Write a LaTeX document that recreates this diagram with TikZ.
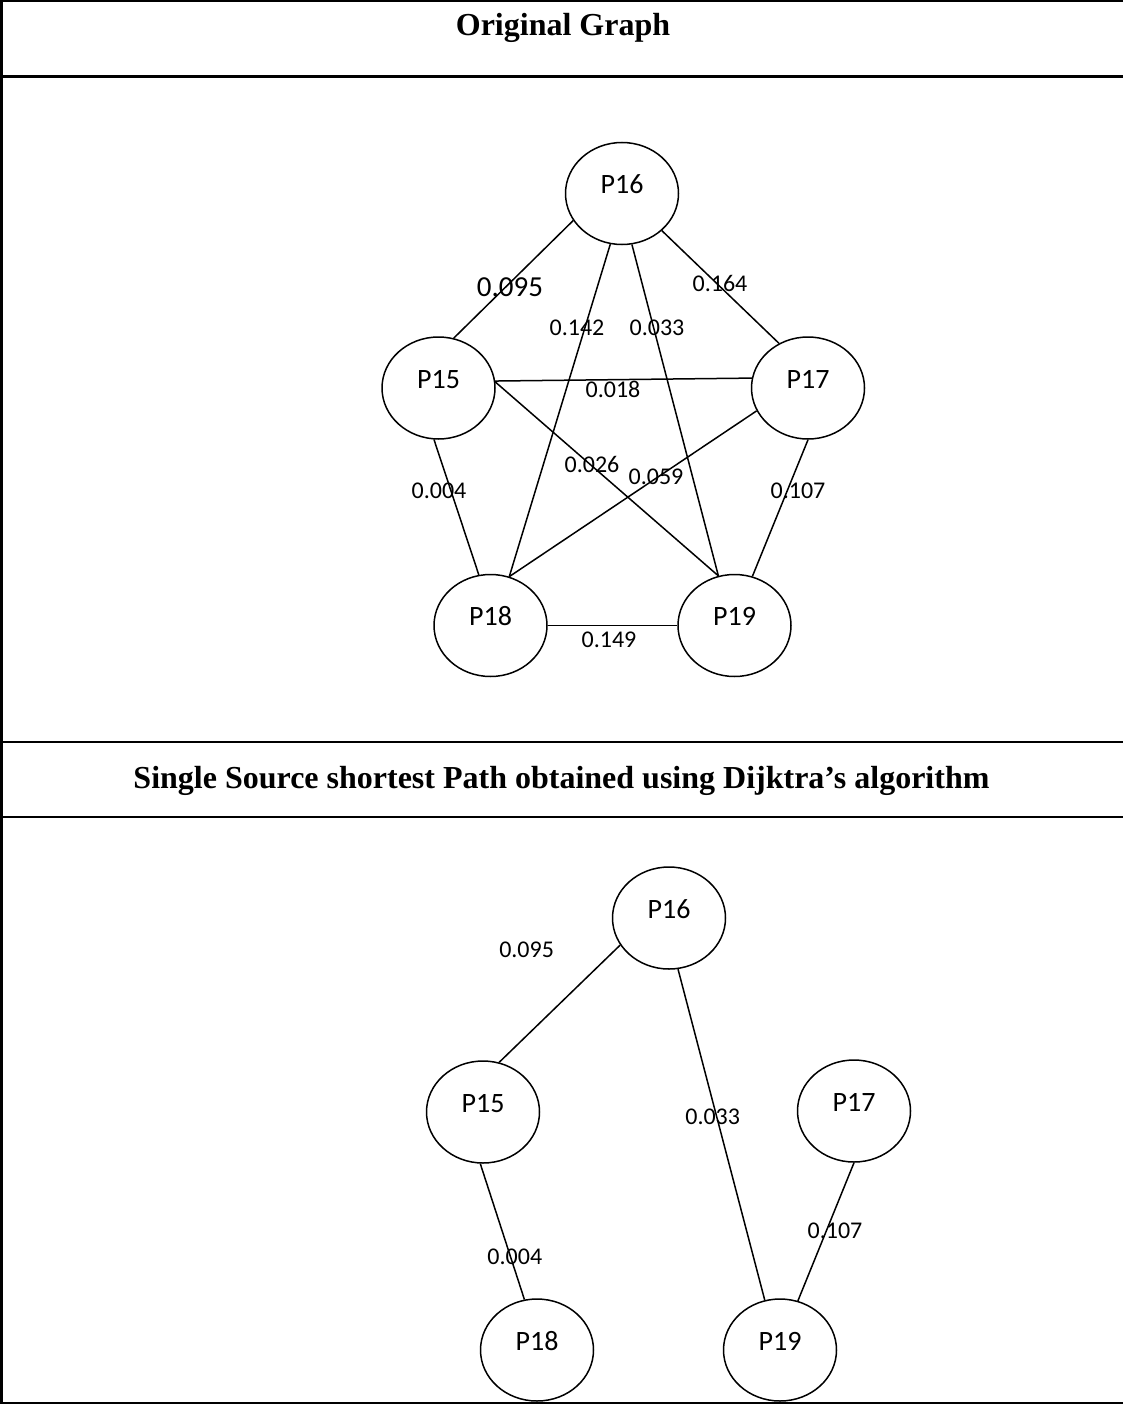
\documentclass[tikz,border=0pt]{standalone}
\usepackage{fontspec}
\setmainfont{Liberation Serif}
\newfontfamily\labelfont{Carlito}
\usetikzlibrary{shapes.geometric}

\begin{document}
\begin{tikzpicture}[x=1pt,y=-1pt,
  vertex/.style={draw, ellipse, line width=1.5pt, inner sep=0pt,
    minimum width=113pt, minimum height=102pt,
    font=\labelfont\fontsize{28}{28}\selectfont,
    text height=10pt, text depth=10pt},
  link/.style={line width=1.5pt},
  weight/.style={inner sep=0pt, font=\labelfont\fontsize{24}{24}\selectfont},
  bigweight/.style={inner sep=0pt, font=\labelfont\fontsize{29}{29}\selectfont},
  heading/.style={inner sep=0pt, anchor=base, font=\bfseries\fontsize{32}{32}\selectfont},
  rule/.style={line width=2.2pt}
]
% page and white background
\fill[white] (0,0) rectangle (1123,1407);
\useasboundingbox (0,0) rectangle (1123,1407);

% table frame
\draw[rule] (0,1) -- (1123,1);
\draw[rule] (0,76.5) -- (1123,76.5);
\draw[rule] (0,742) -- (1123,742);
\draw[rule] (0,817) -- (1123,817);
\draw[rule] (0,1403) -- (1123,1403);
\draw[rule] (1.5,0) -- (1.5,1404);

% headings
\node[heading] (t1) at (563,36) {Original Graph};
\node[heading] (t2) at (561.5,788) {Single Source shortest Path obtained using Dijktra’s algorithm};

% ---- original graph ----
\node[vertex] (a16) at (622,193.5) {P16};
\node[vertex] (a15) at (438.5,388) {P15};
\node[vertex] (a17) at (808,388) {P17};
\node[vertex] (a18) at (490.5,625.5) {P18};
\node[vertex] (a19) at (734.5,625.5) {P19};

\draw[link] (a16.209.5) -- (a15.73);
\draw[link] (a16.257) -- (a18.69);
\draw[link] (a16.281) -- (a19.108);
\draw[link] (a16.317) -- (a17.123);
\draw[link] (a15.7) -- (a17.170);
\draw[link] (a15.6) -- (a19.108);
\draw[link] (a17.204) -- (a18.69);
\draw[link] (a15.265) -- (a18.103);
\draw[link] (a17.270) -- (a19.70);
\draw[link] (a18.east) -- (a19.west);

\node[bigweight] (w1) at (510,287) {0.095};
\node[weight] (w2) at (720,283) {0.164};
\node[weight] (w3) at (577,328) {0.142};
\node[weight] (w4) at (657,328) {0.033};
\node[weight] (w5) at (613,389) {0.018};
\node[weight] (w6) at (592,464) {0.026};
\node[weight] (w7) at (656,476.5) {0.059};
\node[weight] (w8) at (439,491) {0.004};
\node[weight] (w9) at (798,491) {0.107};
\node[weight] (w10) at (609,639.5) {0.149};

% ---- shortest path tree ----
\node[vertex] (b16) at (669,918) {P16};
\node[vertex] (b15) at (483,1112) {P15};
\node[vertex] (b17) at (854,1111) {P17};
\node[vertex] (b18) at (537,1350) {P18};
\node[vertex] (b19) at (780,1350) {P19};

\draw[link] (b16.209) -- (b15.72);
\draw[link] (b16.280) -- (b19.107);
\draw[link] (b15.267) -- (b18.104);
\draw[link] (b17.270) -- (b19.70);

\node[weight] (v1) at (526.6,950) {0.095};
\node[weight] (v2) at (712.7,1116.7) {0.033};
\node[weight] (v3) at (514.8,1257) {0.004};
\node[weight] (v4) at (835,1230.5) {0.107};
\end{tikzpicture}
\end{document}
